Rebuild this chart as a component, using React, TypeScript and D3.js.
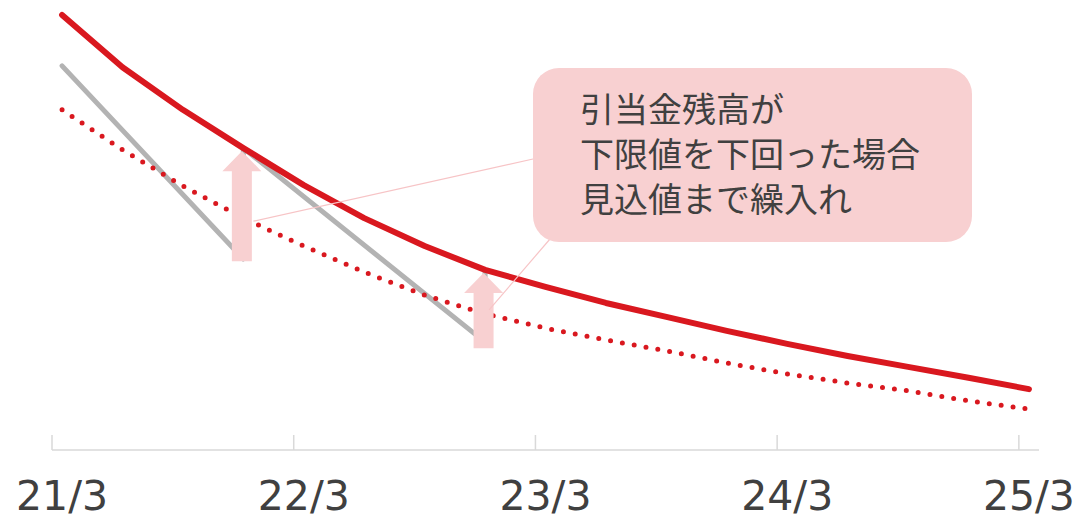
import React from "react";
import * as d3 from "d3";

const tickLabels = ["21/3", "22/3", "23/3", "24/3", "25/3"];
const tickMonths = [0, 12, 24, 36, 48];
const quarterMonths = [0, 3, 6, 9, 12, 15, 18, 21, 24, 27, 30, 33, 36, 39, 42, 45, 48];
const balance = [100, 88.0, 78.2, 69.4, 60.9, 53.3, 46.9, 41.4, 37.5, 33.8, 30.6, 27.4, 24.4, 21.6, 19.1, 16.6, 14.0];
const lowerLimit = [78.2, 69.0, 60.7, 53.3, 46.9, 40.9, 35.6, 31.3, 28.0, 25.3, 22.8, 20.0, 17.5, 15.4, 13.6, 11.3, 9.4];
const grayMonths = [0, 9, 9, 21, 21];
const grayValues = [88.3, 43.9, 69.4, 24.8, 41.4];
const arrowMonths = [9, 21];
const arrowFrom = [43.4, 23.4];
const arrowTo = [68.7, 40.7];
const calloutLines = ["引当金残高が", "下限値を下回った場合", "見込値まで繰入れ"];
const leaderMonths = [9.5, 21.2];
const leaderValues = [52.6, 32.2];

const W = 1081;
const H = 517;
const RED = "#d9181f";
const GRAY = "#b3b3b3";
const PINK = "#f8d0d1";

export default function App() {
  const x = d3.scaleLinear().domain([-0.5, 48.5]).range([52, 1039]);
  const y = d3.scaleLinear().domain([0, 100]).range([450, 15]);
  const baseY = y(0);

  const line = d3
    .line<[number, number]>()
    .x((d) => x(d[0]))
    .y((d) => y(d[1]));

  const solidPath = line(quarterMonths.map((m, i) => [m, balance[i]]))!;
  const dottedPath = line(quarterMonths.map((m, i) => [m, lowerLimit[i]]))!;
  const grayPath = line(grayMonths.map((m, i) => [m, grayValues[i]]))!;

  const box = { x0: 533, y0: 68, x1: 972, y1: 242 };

  const arrowPath = (m: number, from: number, to: number) => {
    const cx = x(m) - 1.5;
    const yb = y(from);
    const yt = y(to);
    const sw = 10;
    const hw = 19.5;
    const hl = 20;
    return `M${cx - sw},${yb} L${cx - sw},${yt + hl} L${cx - hw},${yt + hl} L${cx},${yt} L${cx + hw},${yt + hl} L${cx + sw},${yt + hl} L${cx + sw},${yb} Z`;
  };

  const leaderEnds = [
    [box.x0, 159],
    [550, box.y1 - 3],
  ];

  return (
    <svg
      width={W}
      height={H}
      style={{ position: "absolute", left: 0, top: 0, background: "#fff" }}
    >
      {/* axis */}
      <line x1={x(-0.5)} x2={x(48.5)} y1={baseY} y2={baseY} stroke="#d9d9d9" strokeWidth={1.5} />
      {tickMonths.map((m) => (
        <line
          key={"t" + m}
          x1={x(m - 0.5)}
          x2={x(m - 0.5)}
          y1={baseY - 15}
          y2={baseY}
          stroke="#d9d9d9"
          strokeWidth={1.5}
        />
      ))}
      {tickMonths.map((m, i) => (
        <text
          key={"l" + m}
          x={x(m)}
          y={510}
          textAnchor="middle"
          fontFamily="DejaVu Sans"
          fontSize={41}
          fill="#404040"
        >
          {tickLabels[i]}
        </text>
      ))}

      {/* series */}
      <path d={grayPath} fill="none" stroke={GRAY} strokeWidth={5} strokeLinecap="round" strokeLinejoin="round" />
      <path
        d={dottedPath}
        fill="none"
        stroke={RED}
        strokeWidth={5}
        strokeLinecap="round"
        strokeDasharray="0 12"
      />
      <path d={solidPath} fill="none" stroke={RED} strokeWidth={6} strokeLinecap="round" strokeLinejoin="round" />

      {/* arrows */}
      {arrowMonths.map((m, i) => (
        <path key={"a" + i} d={arrowPath(m, arrowFrom[i], arrowTo[i])} fill={PINK} />
      ))}

      {/* leader lines */}
      {leaderMonths.map((m, i) => (
        <line
          key={"ld" + i}
          x1={x(m)}
          y1={y(leaderValues[i])}
          x2={leaderEnds[i][0]}
          y2={leaderEnds[i][1]}
          stroke="#f7c4c6"
          strokeWidth={1.2}
        />
      ))}

      {/* callout */}
      <rect
        x={box.x0}
        y={box.y0}
        width={box.x1 - box.x0}
        height={box.y1 - box.y0}
        rx={26}
        ry={26}
        fill={PINK}
      />
      {calloutLines.map((t, i) => (
        <text
          key={"c" + i}
          x={580}
          y={122 + i * 45}
          fontFamily="'Noto Sans CJK JP'"
          fontSize={34}
          fill="#404040"
        >
          {t}
        </text>
      ))}
    </svg>
  );
}
